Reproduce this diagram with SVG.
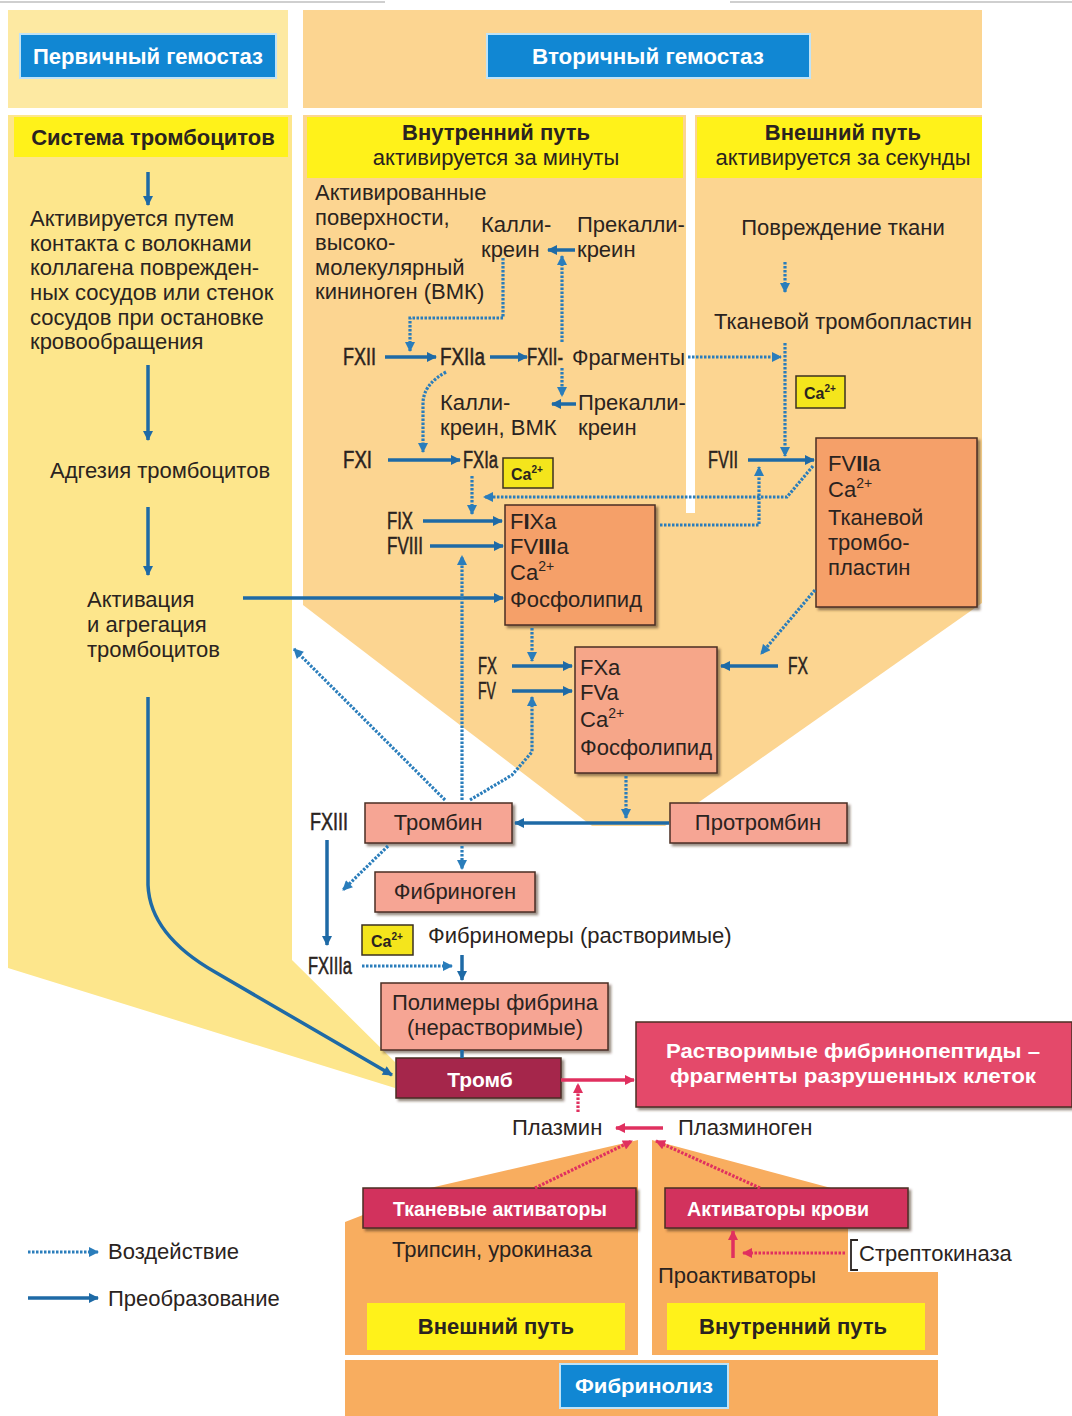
<svg xmlns="http://www.w3.org/2000/svg" width="1072" height="1416" viewBox="0 0 1072 1416">
<defs>
<style>
.t{font-family:"Liberation Sans",Arial,sans-serif;font-size:22px;fill:#2a2320}
.b{font-weight:bold}
.w{font-family:"Liberation Sans",Arial,sans-serif;fill:#fff;font-weight:bold}
.f{font-family:"Liberation Sans",Arial,sans-serif;font-size:23px;fill:#2a2320;stroke:#2a2320;stroke-width:0.5}
.cat{font-family:"Liberation Sans",Arial,sans-serif;font-size:16px;font-weight:bold;fill:#2a2320}
.s{fill:none;stroke:#1e6aa6;stroke-width:3.5}
.d{fill:none;stroke:#2a7dbb;stroke-width:3.2;stroke-dasharray:2.5 1.5}
.p{fill:none;stroke:#e0305f;stroke-width:3.5}
.pd{fill:none;stroke:#e0305f;stroke-width:3.2;stroke-dasharray:2.5 1.5}
.bx{stroke:#4a2e24;stroke-width:1.5}
.ca{fill:#f4e51c;stroke:#3b3020;stroke-width:1.5}
.blue{fill:#1187d3;stroke:#bfe3f7;stroke-width:2}
.yb{fill:#fff21a}
</style>
<marker id="ab" viewBox="0 0 10 10" refX="9" refY="5" markerWidth="12" markerHeight="10" markerUnits="userSpaceOnUse" orient="auto"><path d="M0,0L10,5L0,10z" fill="#1e6aa6"/></marker>
<marker id="ad" viewBox="0 0 10 10" refX="9" refY="5" markerWidth="11" markerHeight="10" markerUnits="userSpaceOnUse" orient="auto"><path d="M0,0L10,5L0,10z" fill="#2a7dbb"/></marker>
<marker id="ap" viewBox="0 0 10 10" refX="9" refY="5" markerWidth="12" markerHeight="10" markerUnits="userSpaceOnUse" orient="auto"><path d="M0,0L10,5L0,10z" fill="#e0305f"/></marker>
<filter id="sh" x="-5%" y="-5%" width="115%" height="125%"><feDropShadow dx="2.5" dy="2.5" stdDeviation="1" flood-color="#4a3020" flood-opacity="0.55"/></filter>
</defs>

<g id="background">
<line x1="0" y1="2" x2="385" y2="2" stroke="#cfcfcf" stroke-width="2"/>
<line x1="730" y1="2" x2="1072" y2="2" stroke="#cfcfcf" stroke-width="2"/>
<rect x="8" y="10" width="280" height="98" fill="#fde9a2"/>
<rect x="303" y="10" width="679" height="98" fill="#fcd591"/>
<polygon points="8,115 292,115 292,960 395,1062 395,1088 8,968" fill="#fde68c"/>
<polygon points="303,115 982,115 982,603 665,826 592,826 303,605" fill="#fcd591"/>
<rect x="686" y="115" width="9" height="398" fill="#ffffff"/>
<polygon points="345,1355 345,1222 363,1215 363,1188 430,1188 638,1140 638,1355" fill="#f8ad5f"/>
<polygon points="652,1355 652,1140 831,1188 908,1188 908,1228 848,1228 848,1272 938,1272 938,1355" fill="#f8ad5f"/>
<rect x="345" y="1360" width="593" height="56" fill="#f8ad5f"/>
</g>

<g id="headers">
<g id="primary-header"><rect class="blue" x="20" y="34" width="256" height="44"/><text class="w" x="148" y="64" font-size="22" text-anchor="middle" textLength="230" lengthAdjust="spacingAndGlyphs">Первичный гемостаз</text></g>
<g id="secondary-header"><rect class="blue" x="487" y="34" width="323" height="44"/><text class="w" x="648" y="64" font-size="22" text-anchor="middle" textLength="232" lengthAdjust="spacingAndGlyphs">Вторичный гемостаз</text></g>
<g id="platelet-header"><rect class="yb" x="14" y="117" width="274" height="40"/><text class="t b" x="153" y="145" text-anchor="middle">Система тромбоцитов</text></g>
<g id="intrinsic-header"><rect class="yb" x="307" y="117" width="376" height="61"/><text class="t b" x="496" y="140" text-anchor="middle">Внутренний путь</text><text class="t" x="496" y="165" text-anchor="middle">активируется за минуты</text></g>
<g id="extrinsic-header"><rect class="yb" x="697" y="117" width="285" height="61"/><text class="t b" x="843" y="140" text-anchor="middle">Внешний путь</text><text class="t" x="843" y="165" text-anchor="middle">активируется за секунды</text></g>
</g>

<g id="platelets">
<g id="platelet-activation-text"><text class="t" x="30" y="226">Активируется путем</text><text class="t" x="30" y="251">контакта с волокнами</text><text class="t" x="30" y="275">коллагена поврежден-</text><text class="t" x="30" y="300">ных сосудов или стенок</text><text class="t" x="30" y="325">сосудов при остановке</text><text class="t" x="30" y="349">кровообращения</text></g>
<g id="adhesion"><text class="t" x="50" y="478">Адгезия тромбоцитов</text></g>
<g id="aggregation"><text class="t" x="87" y="607">Активация</text><text class="t" x="87" y="632">и агрегация</text><text class="t" x="87" y="657">тромбоцитов</text></g>
</g>

<g id="intrinsic">
<g id="surfaces"><text class="t" x="315" y="200">Активированные</text><text class="t" x="315" y="225">поверхности,</text><text class="t" x="315" y="250">высоко-</text><text class="t" x="315" y="275">молекулярный</text><text class="t" x="315" y="299">кининоген (ВМК)</text></g>
<g id="kallikrein1"><text class="t" x="481" y="232">Калли-</text><text class="t" x="481" y="257">креин</text></g>
<g id="prekallikrein1"><text class="t" x="577" y="232">Прекалли-</text><text class="t" x="577" y="257">креин</text></g>
<g id="fxii"><text class="f" x="343" y="365" textLength="33" lengthAdjust="spacingAndGlyphs">FXII</text></g>
<g id="fxiia"><text class="f" x="440" y="365" textLength="45" lengthAdjust="spacingAndGlyphs">FXIIa</text></g>
<g id="fxii-fragments"><text class="f" x="527" y="365" textLength="36" lengthAdjust="spacingAndGlyphs">FXII-</text><text class="t" x="572" y="365" textLength="113" lengthAdjust="spacingAndGlyphs">Фрагменты</text></g>
<g id="kallikrein2"><text class="t" x="440" y="410">Калли-</text><text class="t" x="440" y="435">креин, ВМК</text></g>
<g id="prekallikrein2"><text class="t" x="578" y="410">Прекалли-</text><text class="t" x="578" y="435">креин</text></g>
<g id="fxi"><text class="f" x="343" y="468" textLength="29" lengthAdjust="spacingAndGlyphs">FXI</text></g>
<g id="fxia"><text class="f" x="463" y="468" textLength="35" lengthAdjust="spacingAndGlyphs">FXIa</text></g>
<g id="ca1"><rect class="ca" x="503" y="458" width="50" height="30"/><text class="cat" x="511" y="480">Ca<tspan dy="-7" font-size="10">2+</tspan></text></g>
<g id="fix"><text class="f" x="387" y="529" textLength="26" lengthAdjust="spacingAndGlyphs">FIX</text></g>
<g id="fviii"><text class="f" x="387" y="554" textLength="36" lengthAdjust="spacingAndGlyphs">FVIII</text></g>
<g id="fixa-complex"><rect class="bx" x="505" y="505" width="150" height="120" fill="#f5a069" filter="url(#sh)"/><text class="t" x="510" y="529">F<tspan font-weight="bold">I</tspan>Xa</text><text class="t" x="510" y="554">FV<tspan font-weight="bold">III</tspan>a</text><text class="t" x="510" y="580">Ca<tspan dy="-9" font-size="14">2+</tspan></text><text class="t" x="510" y="607">Фосфолипид</text></g>
<g id="fx"><text class="f" x="478" y="674" textLength="19" lengthAdjust="spacingAndGlyphs">FX</text></g>
<g id="fv"><text class="f" x="478" y="699" textLength="18" lengthAdjust="spacingAndGlyphs">FV</text></g>
<g id="fxa-complex"><rect class="bx" x="575" y="647" width="142" height="126" fill="#f6a689" filter="url(#sh)"/><text class="t" x="580" y="675">FXa</text><text class="t" x="580" y="700">FVa</text><text class="t" x="580" y="727">Ca<tspan dy="-9" font-size="14">2+</tspan></text><text class="t" x="580" y="755">Фосфолипид</text></g>
</g>

<g id="extrinsic">
<g id="tissue-damage"><text class="t" x="843" y="235" text-anchor="middle">Повреждение ткани</text></g>
<g id="tissue-thromboplastin"><text class="t" x="843" y="329" text-anchor="middle">Тканевой тромбопластин</text></g>
<g id="ca2"><rect class="ca" x="796" y="376" width="49" height="32"/><text class="cat" x="804" y="399">Ca<tspan dy="-7" font-size="10">2+</tspan></text></g>
<g id="fvii"><text class="f" x="708" y="468" textLength="30" lengthAdjust="spacingAndGlyphs">FVII</text></g>
<g id="fviia-complex"><rect class="bx" x="816" y="438" width="161" height="169" fill="#f5a069" filter="url(#sh)"/><text class="t" x="828" y="471">FV<tspan font-weight="bold">II</tspan>a</text><text class="t" x="828" y="497">Ca<tspan dy="-9" font-size="14">2+</tspan></text><text class="t" x="828" y="525">Тканевой</text><text class="t" x="828" y="550">тромбо-</text><text class="t" x="828" y="575">пластин</text></g>
<g id="fx-right"><text class="f" x="788" y="674" textLength="20" lengthAdjust="spacingAndGlyphs">FX</text></g>
</g>

<g id="common">
<g id="thrombin"><rect class="bx" x="365" y="803" width="147" height="40" fill="#f6a594" filter="url(#sh)"/><text class="t" x="438" y="830" text-anchor="middle">Тромбин</text></g>
<g id="prothrombin"><rect class="bx" x="670" y="803" width="177" height="40" fill="#f6a594" filter="url(#sh)"/><text class="t" x="758" y="830" text-anchor="middle">Протромбин</text></g>
<g id="fxiii"><text class="f" x="310" y="830" textLength="38" lengthAdjust="spacingAndGlyphs">FXIII</text></g>
<g id="fibrinogen"><rect class="bx" x="375" y="872" width="160" height="40" fill="#f6a594" filter="url(#sh)"/><text class="t" x="455" y="899" text-anchor="middle">Фибриноген</text></g>
<g id="ca3"><rect class="ca" x="362" y="925" width="51" height="30"/><text class="cat" x="371" y="947">Ca<tspan dy="-7" font-size="10">2+</tspan></text></g>
<g id="fibrinomers"><text class="t" x="428" y="943">Фибриномеры (растворимые)</text></g>
<g id="fxiiia"><text class="f" x="308" y="974" textLength="44" lengthAdjust="spacingAndGlyphs">FXIIIa</text></g>
<g id="fibrin-polymers"><rect class="bx" x="381" y="983" width="227" height="67" fill="#f6a594" filter="url(#sh)"/><text class="t" x="495" y="1010" text-anchor="middle">Полимеры фибрина</text><text class="t" x="495" y="1035" text-anchor="middle">(нерастворимые)</text></g>
<g id="thrombus"><rect class="bx" x="396" y="1058" width="165" height="40" fill="#a5284b" filter="url(#sh)"/><text class="w" x="480" y="1087" font-size="21" text-anchor="middle">Тромб</text></g>
<g id="fibrinopeptides"><rect class="bx" x="636" y="1022" width="436" height="85" fill="#e44a6b" filter="url(#sh)"/><text class="w" x="853" y="1058" font-size="21" text-anchor="middle" textLength="374" lengthAdjust="spacingAndGlyphs">Растворимые фибринопептиды –</text><text class="w" x="853" y="1083" font-size="21" text-anchor="middle" textLength="366" lengthAdjust="spacingAndGlyphs">фрагменты разрушенных клеток</text></g>
</g>

<g id="fibrinolysis">
<g id="plasmin"><text class="t" x="512" y="1135">Плазмин</text></g>
<g id="plasminogen"><text class="t" x="678" y="1135">Плазминоген</text></g>
<g id="tissue-activators"><rect class="bx" x="363" y="1188" width="273" height="40" fill="#d2315d" filter="url(#sh)"/><text class="w" x="500" y="1216" font-size="20" text-anchor="middle" textLength="214" lengthAdjust="spacingAndGlyphs">Тканевые активаторы</text></g>
<g id="blood-activators"><rect class="bx" x="665" y="1188" width="243" height="40" fill="#d2315d" filter="url(#sh)"/><text class="w" x="778" y="1216" font-size="20" text-anchor="middle" textLength="182" lengthAdjust="spacingAndGlyphs">Активаторы крови</text></g>
<g id="trypsin"><text class="t" x="392" y="1257">Трипсин, урокиназа</text></g>
<g id="streptokinase"><path d="M858,1240H851V1270H858" fill="none" stroke="#2a2320" stroke-width="1.8"/><text class="t" x="859" y="1261">Стрептокиназа</text></g>
<g id="proactivators"><text class="t" x="658" y="1283">Проактиваторы</text></g>
<g id="extrinsic-path"><rect class="yb" x="367" y="1303" width="258" height="47"/><text class="t b" x="496" y="1334" text-anchor="middle">Внешний путь</text></g>
<g id="intrinsic-path"><rect class="yb" x="667" y="1303" width="258" height="47"/><text class="t b" x="793" y="1334" text-anchor="middle">Внутренний путь</text></g>
<g id="fibrinolysis-label"><rect class="blue" x="560" y="1364" width="168" height="44"/><text class="w" x="644" y="1393" font-size="21" text-anchor="middle" textLength="138" lengthAdjust="spacingAndGlyphs">Фибринолиз</text></g>
</g>

<g id="legend">
<path class="d" d="M28,1252H98" marker-end="url(#ad)"/><text class="t" x="108" y="1259">Воздействие</text>
<path class="s" d="M28,1298H98" marker-end="url(#ab)"/><text class="t" x="108" y="1306">Преобразование</text>
</g>

<g id="connectors">
<path class="s" d="M148,172V205" marker-end="url(#ab)"/>
<path class="s" d="M148,365V440" marker-end="url(#ab)"/>
<path class="s" d="M148,507V575" marker-end="url(#ab)"/>
<path class="s" d="M243,598H503" marker-end="url(#ab)"/>
<path class="s" d="M148,697V885Q150,935 215,972L392,1075" marker-end="url(#ab)"/>
<path class="d" d="M503,258V318H410V351" marker-end="url(#ad)"/>
<path class="s" d="M385,357H436" marker-end="url(#ab)"/>
<path class="s" d="M490,357H527" marker-end="url(#ab)"/>
<path class="d" d="M562,342V256" marker-end="url(#ad)"/>
<path class="s" d="M575,250H548" stroke-width="2.5" marker-end="url(#ab)"/>
<path class="d" d="M562,368V396" marker-end="url(#ad)"/>
<path class="s" d="M576,404H552" stroke-width="2.5" marker-end="url(#ab)"/>
<path class="d" d="M446,372Q424,384 423,402V452" marker-end="url(#ad)"/>
<path class="s" d="M388,460H460" marker-end="url(#ab)"/>
<path class="d" d="M472,476V514" marker-end="url(#ad)"/>
<path class="s" d="M423,521H502" marker-end="url(#ab)"/>
<path class="s" d="M430,546H503" stroke-width="2" marker-end="url(#ab)"/>
<path class="d" d="M813,466L787,497H484" marker-end="url(#ad)"/>
<path class="d" d="M660,525H759V467" marker-end="url(#ad)"/>
<path class="d" d="M688,357H781" marker-end="url(#ad)"/>
<path class="d" d="M785,262V292" marker-end="url(#ad)"/>
<path class="d" d="M785,343V456" marker-end="url(#ad)"/>
<path class="s" d="M748,460H814" marker-end="url(#ab)"/>
<path class="d" d="M462,800V556" marker-end="url(#ad)"/>
<path class="d" d="M532,628V661" marker-end="url(#ad)"/>
<path class="s" d="M512,666H572" marker-end="url(#ab)"/>
<path class="s" d="M512,691H572" marker-end="url(#ab)"/>
<path class="d" d="M470,800L512,775L532,752V697" marker-end="url(#ad)"/>
<path class="d" d="M445,800L294,649" marker-end="url(#ad)"/>
<path class="d" d="M815,590L761,654" marker-end="url(#ad)"/>
<path class="s" d="M778,666H721" marker-end="url(#ab)"/>
<path class="d" d="M626,776V818" marker-end="url(#ad)"/>
<path class="s" d="M669,823H515" marker-end="url(#ab)"/>
<path class="d" d="M462,846V869" marker-end="url(#ad)"/>
<path class="d" d="M388,846L343,890" marker-end="url(#ad)"/>
<path class="s" d="M327,840V945" marker-end="url(#ab)"/>
<path class="d" d="M362,966H452" marker-end="url(#ad)"/>
<path class="s" d="M462,955V980" marker-end="url(#ab)"/>
<path class="s" d="M462,1050V1058" stroke-width="2.5"/>
<path class="p" d="M561,1080H634" marker-end="url(#ap)"/>
<path class="pd" d="M578,1112V1084" marker-end="url(#ap)"/>
<path class="p" d="M663,1128H616" marker-end="url(#ap)"/>
<path class="pd" d="M535,1188L632,1141" marker-end="url(#ap)"/>
<path class="pd" d="M760,1188L656,1141" marker-end="url(#ap)"/>
<path class="p" d="M733,1258V1231" marker-end="url(#ap)"/>
<path class="pd" d="M845,1253H743" marker-end="url(#ap)"/>
</g>
</svg>
